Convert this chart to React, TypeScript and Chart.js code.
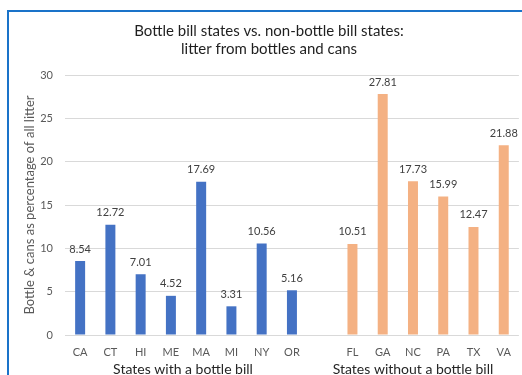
import React, { useEffect, useRef } from "react";
import { Chart, registerables } from "chart.js";

Chart.register(...registerables);

const withBillStates = ["CA", "CT", "HI", "ME", "MA", "MI", "NY", "OR"];
const withBillValues = [8.54, 12.72, 7.01, 4.52, 17.69, 3.31, 10.56, 5.16];
const withoutBillStates = ["FL", "GA", "NC", "PA", "TX", "VA"];
const withoutBillValues = [10.51, 27.81, 17.73, 15.99, 12.47, 21.88];
const yTicks = [0, 5, 10, 15, 20, 25, 30];
const titleLines = ["Bottle bill states vs. non-bottle bill states:", "litter from bottles and cans"];
const yTitle = "Bottle & cans as percentage of all litter";
const groupTitles = ["States with a bottle bill", "States without a bottle bill"];

const FONT = "Lato, 'Open Sans', sans-serif";

export default function App() {
  const ref = useRef<HTMLCanvasElement | null>(null);

  useEffect(() => {
    if (!ref.current) return;
    const labels = [...withBillStates, "", ...withoutBillStates];
    const pad = (n: number) => new Array(n).fill(null);
    const blueData = [...withBillValues, ...pad(1 + withoutBillStates.length)];
    const orangeData = [...pad(withBillStates.length + 1), ...withoutBillValues];

    const labelPlugin = {
      id: "extras",
      afterDatasetsDraw(chart: any) {
        const ctx = chart.ctx;
        ctx.save();
        ctx.textAlign = "center";
        ctx.textBaseline = "middle";
        // chart title
        ctx.font = `15px ${FONT}`;
        ctx.fillStyle = "#1f1f1f";
        ctx.fillText(titleLines[0], 269, 31);
        ctx.fillText(titleLines[1], 269, 49.5);
        // data labels
        ctx.font = `11px ${FONT}`;
        ctx.fillStyle = "#404040";
        chart.data.datasets.forEach((ds: any, di: number) => {
          const meta = chart.getDatasetMeta(di);
          meta.data.forEach((el: any, i: number) => {
            const v = ds.data[i];
            if (v === null || v === undefined) return;
            ctx.fillText(v.toFixed(2), el.x, el.y - 12);
          });
        });
        // y title
        const ca = chart.chartArea;
        ctx.font = `13px ${FONT}`;
        ctx.fillStyle = "#595959";
        ctx.save();
        ctx.translate(30, (ca.top + ca.bottom) / 2);
        ctx.rotate(-Math.PI / 2);
        ctx.fillText(yTitle, 0, 0);
        ctx.restore();
        // group titles
        const xs = chart.scales.x;
        ctx.font = `14px ${FONT}`;
        ctx.fillStyle = "#262626";
        ctx.fillText(groupTitles[0], xs.getPixelForValue(3.4), 369);
        ctx.fillText(groupTitles[1], xs.getPixelForValue(11), 369);
        ctx.restore();
      },
    };

    const chart = new Chart(ref.current, {
      type: "bar",
      data: {
        labels,
        datasets: [
          { label: "With bottle bill", data: blueData, backgroundColor: "#4472C4" },
          { label: "Without bottle bill", data: orangeData, backgroundColor: "#F4B183" },
        ],
      },
      options: {
        responsive: false,
        animation: false,
        devicePixelRatio: 1,
        layout: { padding: { left: 0, right: 3, top: 75, bottom: 0 } },
        datasets: { bar: { grouped: false, categoryPercentage: 1, barPercentage: 0.33 } },
        plugins: {
          legend: { display: false },
          tooltip: { enabled: false },
          title: { display: false },
        },
        scales: {
          x: {
            grid: { display: false, drawTicks: false },
            border: { display: false },
            ticks: { color: "#595959", font: { family: FONT, size: 11 }, padding: 11, autoSkip: false, maxRotation: 0 },
            afterFit: (s: any) => { s.height = 40; },
          },
          y: {
            min: 0,
            max: 30,
            afterBuildTicks: (s: any) => { s.ticks = yTicks.map((v) => ({ value: v })); },
            grid: { color: "#d9d9d9", drawTicks: false, lineWidth: 1 },
            border: { display: false },
            ticks: { color: "#595959", font: { family: FONT, size: 11 }, padding: 12 },
            afterFit: (s: any) => { s.width = 65; },
          },
        },
      },
      plugins: [labelPlugin],
    });
    return () => chart.destroy();
  }, []);

  return (
    <div style={{ position: "fixed", left: 0, top: 0, width: 522, height: 375, background: "#fff", overflow: "hidden" }}>
      <canvas ref={ref} width={522} height={375} style={{ position: "absolute", left: 0, top: 0 }} />
      <div style={{ position: "absolute", left: 7, top: 10, width: 600, height: 400, borderTop: "2px solid #1a73c9", borderLeft: "2px solid #1a73c9", pointerEvents: "none" }} />
    </div>
  );
}
